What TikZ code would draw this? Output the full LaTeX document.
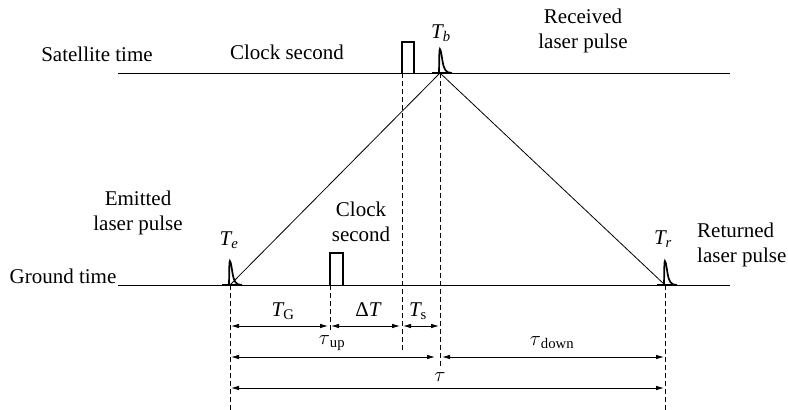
\documentclass[tikz,border=0pt]{standalone}
\usepackage{fontspec}
\setmainfont{Liberation Serif}
\usetikzlibrary{arrows.meta}
\newcommand{\vit}[1]{{\itshape #1}}
\begin{document}
\begin{tikzpicture}[x=1pt,y=-1pt,
  every node/.style={font=\fontsize{21}{25}\selectfont, inner sep=0pt},
  axis/.style={line width=0.9pt},
  ray/.style={line width=0.8pt},
  guide/.style={line width=0.8pt, dash pattern=on 5pt off 3pt},
  dim/.style={line width=0.8pt, {Latex[length=8pt,width=4.5pt]}-{Latex[length=8pt,width=4.5pt]}},
  clk/.style={line width=2.2pt},
  pulse/.pic={
    \draw[line width=2pt] (-8,0) -- (12,0);
    \draw[line width=1.7pt] (-1,0) -- (-0.6,-22) .. controls (0,-27) and (1,-22) .. (2.5,-12)
      .. controls (4,-3) and (6,0) .. (12,0);
  }]
\useasboundingbox (0,0) rectangle (788,410);
% axes
\coordinate (sL) at (118,73); \coordinate (sR) at (730,73);
\coordinate (gL) at (118,285); \coordinate (gR) at (730,285);
\draw[axis] (sL) -- (sR);
\draw[axis] (gL) -- (gR);
% event points
\coordinate (te) at (230,285);
\coordinate (tb) at (440,73);
\coordinate (tr) at (665,285);
\coordinate (cs) at (402,73);
\coordinate (cg) at (330,285);
% clock pulses
\draw[clk] (cs) -- ++(0,-31) -- ++(12,0) -- ++(0,31);
\draw[clk] (cg) -- ++(0,-32) -- ++(13,0) -- ++(0,32);
% laser pulses
\pic at (te) {pulse};
\pic at (tb) {pulse};
\pic at (tr) {pulse};
% rays
\draw[ray] (te) -- (tb) -- (tr);
% guides
\coordinate (teB) at (230,410);
\coordinate (trB) at (665,410);
\coordinate (cgB) at (330,330);
\coordinate (csB) at (402,352);
\coordinate (tbB) at (440,366);
\draw[guide] (te) -- (teB);
\draw[guide] (tr) -- (trB);
\draw[guide] (cg) -- (cgB);
\draw[guide] (cs) -- (csB);
\draw[guide] (tb) -- (tbB);
% dimension arrows
\coordinate (r1a) at (230,326); \coordinate (r1b) at (330,326);
\coordinate (r1c) at (402,326); \coordinate (r1d) at (440,326);
\coordinate (r2a) at (230,357); \coordinate (r2b) at (440,357); \coordinate (r2c) at (665,357);
\coordinate (r3a) at (230,388); \coordinate (r3b) at (665,388);
\draw[dim, shorten <=1pt, shorten >=2pt] (r1a) -- (r1b);
\draw[dim, shorten <=1pt, shorten >=2pt] (r1b) -- (r1c);
\draw[dim, shorten <=1pt, shorten >=1pt] (r1c) -- (r1d);
\draw[dim, shorten <=1pt, shorten >=5pt] (r2a) -- (r2b);
\draw[dim, shorten <=2pt, shorten >=1pt] (r2b) -- (r2c);
\draw[dim, shorten <=1pt, shorten >=1pt] (r3a) -- (r3b);
% labels
\node (lsat) at (97,54) {Satellite time};
\node (lcs) at (287,52) {Clock second};
\node[align=center] (lrec) at (583,31) {Received\\laser pulse};
\node[align=center] (lemit) at (138,213) {Emitted\\laser pulse};
\node (lgnd) at (63,276) {Ground time};
\node[align=center] (lcg) at (361,222) {Clock\\second};
\node[align=left, anchor=west] (lret) at (697,245) {Returned\\laser pulse};
\node (nTb) at (441,33) {\vit{T}\textsubscript{\vit{b}}};
\node (nTe) at (229,240) {\vit{T}\textsubscript{\vit{e}}};
\node (nTr) at (663,239) {\vit{T}\textsubscript{\vit{r}}};
\node (nTG) at (283,311) {\vit{T}\textsubscript{G}};
\node (nDT) at (368,310) {Δ\vit{T}};
\node (nTs) at (418,311) {\vit{T}\textsubscript{s}};
\node (ntup) at (332,343) {$\tau$\textsubscript{up}};
\node (ntdn) at (552,343) {$\tau$\textsubscript{down}};
\node (ntau) at (440,377) {$\tau$};
\end{tikzpicture}
\end{document}
